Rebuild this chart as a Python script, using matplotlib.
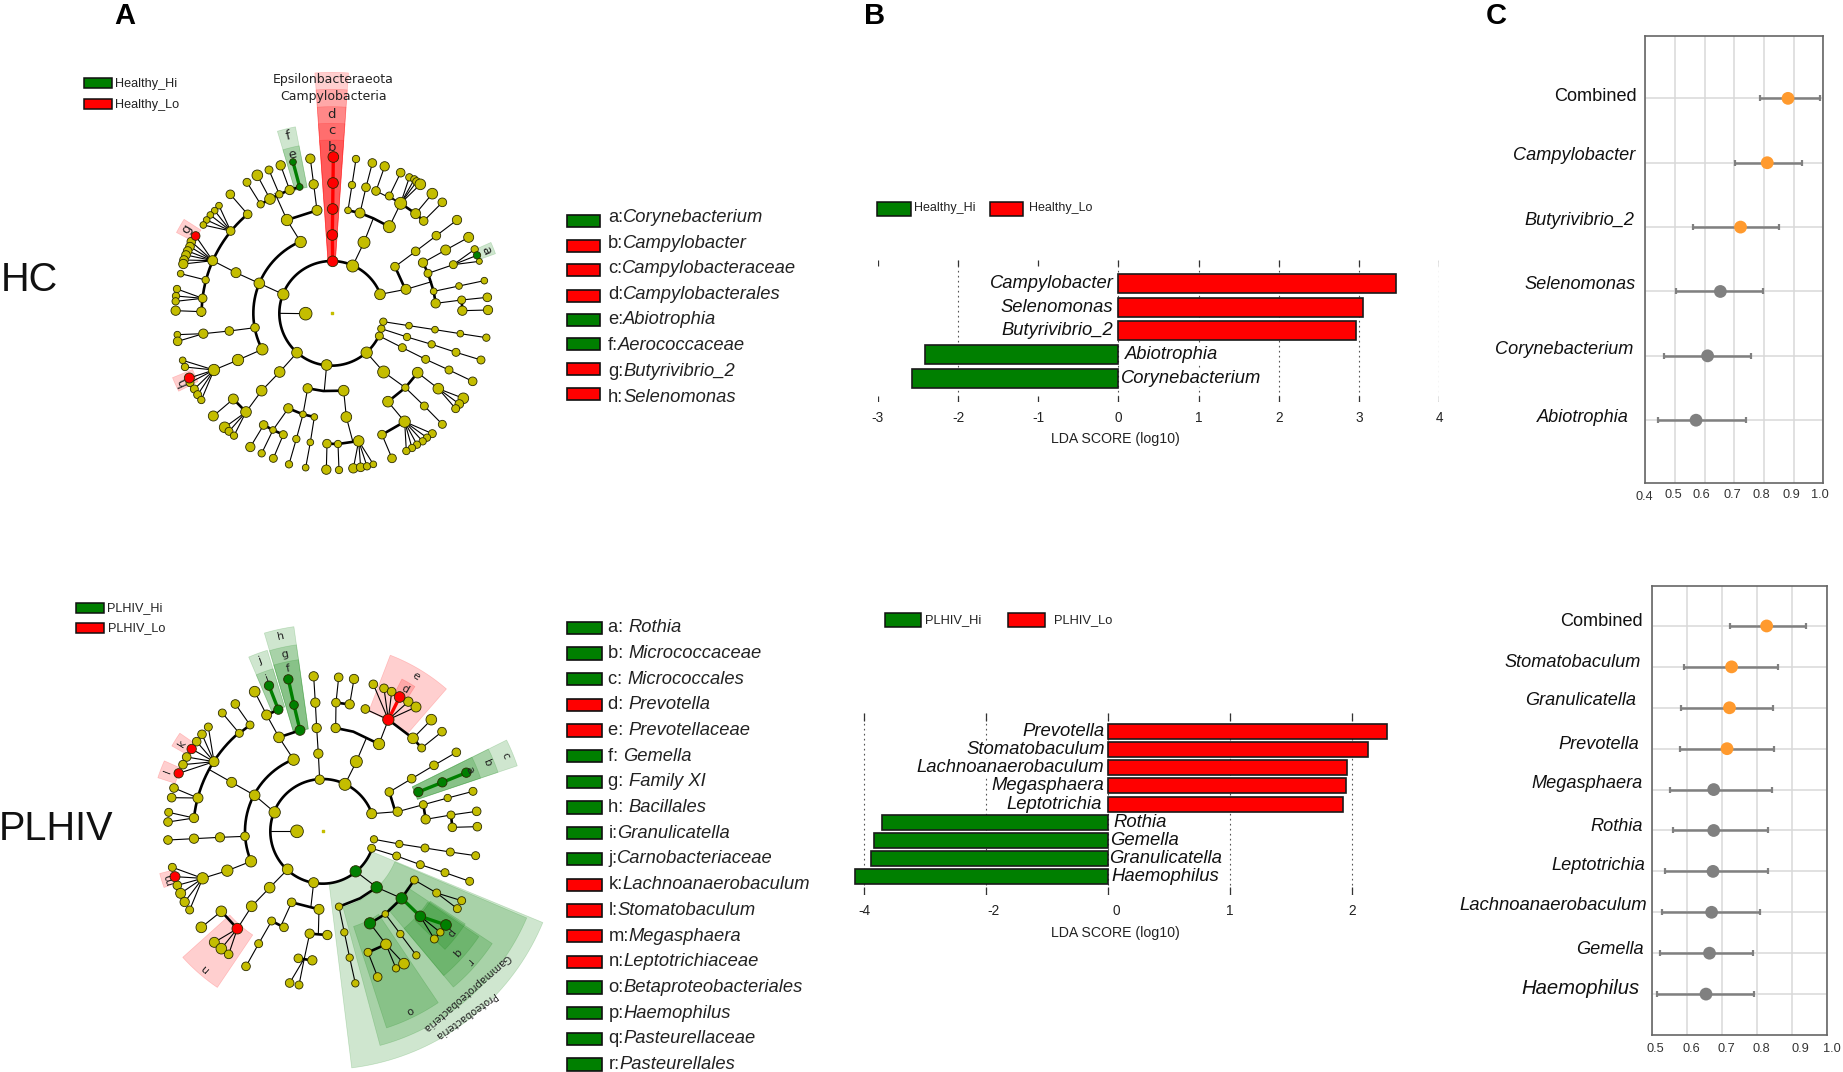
#!/usr/bin/env python3
import numpy as np
import matplotlib
matplotlib.use("Agg")
import matplotlib.pyplot as plt
from matplotlib.patches import Polygon, Rectangle

plt.rcParams["font.family"] = ["Liberation Sans", "DejaVu Sans"]

W, H = 1843, 1072
RED = "#ff0000"
GREEN = "#007f00"
OLIVE = "#c4bd00"

# cladogram nodes and branches at 3x (x, y, radius)
HC_CENTER = (815, 820)
HC_OLIVE = [
    (878, 678, 18), (960, 763, 16), (670, 763, 17), (737, 821, 19), (711, 938, 16), (800, 975, 16),
    (920, 938, 17), (958, 888, 12), (964, 866, 11), (970, 845, 11),
    (912, 607, 18), (988, 560, 18), (900, 519, 15), (918, 442, 13), (937, 369, 13), (864, 511, 10),
    (876, 435, 11), (888, 357, 11), (1022, 490, 18), (948, 453, 13), (974, 379, 14), (1067, 521, 15),
    (1117, 461, 16), (1091, 543, 13), (1147, 487, 13), (988, 468, 12), (1022, 398, 13), (1048, 412, 11),
    (1063, 418, 11), (1070, 425, 12), (1081, 433, 16),
    (1038, 748, 15), (1005, 680, 13), (1067, 634, 13), (1129, 587, 13), (1191, 540, 14), (1104, 700, 12),
    (1089, 668, 14), (1180, 674, 12), (1244, 628, 11), (1258, 664, 9), (1157, 630, 15), (1226, 592, 15),
    (1121, 754, 10), (1197, 738, 10), (1273, 722, 10), (1127, 790, 14), (1205, 780, 12), (1282, 772, 13),
    (1207, 812, 14), (1284, 810, 14),
    (1047, 857, 10), (1125, 869, 10), (1201, 881, 10), (1279, 893, 11), (1041, 891, 11), (1115, 913, 11),
    (1188, 937, 12), (1263, 960, 12), (1027, 923, 12), (1097, 958, 12), (1167, 990, 12), (1238, 1024, 13),
    (971, 996, 18), (1036, 1043, 11), (1093, 1098, 12), (1147, 1153, 12), (1073, 998, 16), (984, 1085, 16),
    (1135, 1046, 16), (1210, 1075, 16), (1198, 1092, 13), (1187, 1106, 12), (1034, 1145, 17), (966, 1184, 13),
    (996, 1255, 13), (1117, 1181, 12), (1101, 1193, 11), (1088, 1204, 11), (1071, 1214, 11), (1056, 1224, 11),
    (1039, 1233, 11),
    (743, 1045, 14), (851, 1052, 16), (859, 1131, 16), (896, 1203, 16), (801, 1211, 13), (834, 1212, 11),
    (880, 1285, 14), (902, 1282, 13), (921, 1279, 11), (940, 1273, 10), (799, 1289, 14), (837, 1290, 11),
    (729, 1123, 10), (685, 1105, 14), (763, 1131, 10), (751, 1207, 10), (737, 1283, 10), (709, 1197, 11),
    (687, 1273, 11), (611, 1155, 13), (639, 1170, 10), (670, 1184, 12), (571, 1221, 14), (605, 1240, 11),
    (640, 1255, 12),
    (659, 996, 16), (605, 1052, 16), (558, 1116, 16), (520, 1077, 15), (460, 1128, 15), (494, 1162, 16),
    (507, 1174, 12), (522, 1187, 11),
    (607, 928, 17), (534, 960, 17), (462, 990, 17), (368, 961, 10), (375, 981, 11), (390, 1028, 12),
    (403, 1047, 12), (413, 1064, 12), (424, 1080, 11),
    (585, 863, 13), (508, 873, 13), (430, 881, 14), (352, 884, 10), (353, 904, 13),
    (598, 730, 16), (528, 698, 15), (458, 662, 15), (437, 720, 11), (362, 701, 10), (428, 775, 13),
    (351, 747, 11), (348, 768, 11), (347, 784, 11), (347, 812, 14), (424, 815, 14),
    (394, 605, 13), (390, 620, 13), (383, 633, 13), (378, 645, 13), (372, 660, 13), (370, 672, 14),
    (512, 573, 13), (477, 497, 10), (464, 512, 10), (451, 525, 10), (440, 540, 10), (430, 555, 10),
    (563, 523, 13), (511, 463, 13),
    (722, 606, 17), (681, 540, 17), (771, 511, 15), (761, 433, 14), (751, 356, 14), (630, 477, 16),
    (658, 463, 11), (689, 450, 14), (602, 493, 11), (561, 427, 12), (592, 406, 16), (627, 390, 12),
    (662, 376, 14),
]
HC_RED = [(818, 664, 16), (817, 585, 16), (818, 507, 16), (819, 429, 16), (820, 351, 16),
          (407, 588, 13), (388, 1014, 15)]
HC_GREEN = [(699, 366, 10), (719, 441, 10), (1251, 646, 11)]
HC_THIN = [
    [(660, 820), (737, 821)], [(878, 678), (912, 607), (940, 535)], [(900, 519), (918, 442), (937, 369)],
    [(864, 511), (876, 435), (888, 357)], [(988, 560), (1022, 490), (948, 453), (974, 379)],
    [(1022, 490), (988, 468), (1022, 398)], [(1022, 490), (1048, 412)], [(1022, 490), (1063, 418)],
    [(1022, 490), (1070, 425)], [(1022, 490), (1081, 433)], [(1067, 521), (1117, 461)],
    [(1091, 543), (1147, 487)], [(960, 763), (1038, 748), (1115, 725)],
    [(1005, 680), (1067, 634), (1129, 587), (1191, 540)], [(1104, 700), (1180, 674), (1244, 628)],
    [(1180, 674), (1258, 664)], [(1180, 674), (1251, 646)], [(1089, 668), (1157, 630), (1226, 592)],
    [(1121, 754), (1197, 738), (1273, 722)], [(1127, 790), (1205, 780), (1282, 772)], [(1207, 812), (1284, 810)],
    [(970, 845), (1047, 857), (1125, 869), (1201, 881), (1279, 893)],
    [(964, 866), (1041, 891), (1115, 913), (1188, 937), (1263, 960)],
    [(958, 888), (1027, 923), (1097, 958), (1167, 990), (1238, 1024)],
    [(920, 938), (971, 996), (1036, 1043), (1093, 1098), (1147, 1153)], [(1073, 998), (1135, 1046), (1210, 1075)],
    [(1135, 1046), (1198, 1092)], [(1135, 1046), (1187, 1106)], [(984, 1085), (1034, 1145), (1117, 1181)],
    [(1034, 1145), (1101, 1193)], [(1034, 1145), (1088, 1204)], [(1034, 1145), (1071, 1214)],
    [(1034, 1145), (1056, 1224)], [(1034, 1145), (1039, 1233)], [(966, 1184), (996, 1255)],
    [(800, 975), (793, 1050)], [(851, 1052), (859, 1131), (878, 1203)], [(896, 1203), (880, 1285)],
    [(896, 1203), (902, 1282)], [(896, 1203), (921, 1279)], [(896, 1203), (940, 1273)], [(801, 1211), (799, 1289)],
    [(834, 1212), (837, 1290)], [(743, 1045), (729, 1123), (709, 1197), (687, 1273)],
    [(763, 1131), (751, 1207), (737, 1283)], [(685, 1105), (639, 1170), (605, 1240)], [(670, 1184), (640, 1255)],
    [(611, 1155), (571, 1221)], [(711, 938), (659, 996), (605, 1052), (558, 1116)], [(520, 1077), (460, 1128)],
    [(558, 1116), (494, 1162)], [(558, 1116), (507, 1174)], [(558, 1116), (522, 1187)],
    [(607, 928), (534, 960), (462, 990), (368, 961)], [(462, 990), (375, 981)], [(462, 990), (388, 1014)],
    [(462, 990), (390, 1028)], [(462, 990), (403, 1047)], [(462, 990), (413, 1064)], [(462, 990), (424, 1080)],
    [(585, 863), (508, 873), (430, 881), (352, 884)], [(430, 881), (353, 904)],
    [(670, 763), (598, 730), (528, 698), (458, 662)], [(437, 720), (362, 701)], [(428, 775), (351, 747)],
    [(428, 775), (348, 768)], [(428, 775), (347, 784)], [(424, 815), (347, 812)],
    [(458, 662), (407, 588)], [(458, 662), (394, 605)], [(458, 662), (390, 620)], [(458, 662), (383, 633)],
    [(458, 662), (378, 645)], [(458, 662), (372, 660)], [(458, 662), (370, 672)],
    [(512, 573), (477, 497)], [(512, 573), (464, 512)], [(512, 573), (451, 525)], [(512, 573), (440, 540)],
    [(512, 573), (430, 555)], [(563, 523), (511, 463)],
    [(722, 606), (681, 540), (645, 460)], [(771, 511), (761, 433), (751, 356)], [(602, 493), (561, 427)],
    [(630, 477), (592, 406)], [(658, 463), (627, 390)], [(689, 450), (662, 376)],
]
HC_THICK = [
    [(864, 511), (900, 519), (940, 535), (988, 560)], [(1022, 490), (1067, 521), (1091, 543)],
    [(1005, 680), (1030, 735)], [(1089, 668), (1104, 700), (1121, 754), (1127, 790)], [(1205, 780), (1207, 812)],
    [(984, 1085), (1036, 1043), (1073, 998)], [(966, 1184), (1034, 1145)], [(743, 1045), (790, 1053), (851, 1052)],
    [(801, 1211), (834, 1212), (896, 1203)], [(685, 1105), (729, 1123), (763, 1131)],
    [(611, 1155), (639, 1170), (670, 1184)], [(520, 1077), (558, 1116)], [(681, 540), (771, 511)],
    [(602, 493), (630, 477), (658, 463), (689, 450), (719, 441)],
]
HC_RED_THICK = [[(818, 664), (817, 585), (818, 507), (819, 429), (820, 351)]]
HC_GREEN_THICK = [[(699, 366), (719, 441)]]
HC_ARCS = [(157, 21, 335), (235, 113, 207), (390, 130, 181)]
# clade, inner radius, outer radius, start angle, end angle, colour
HC_WEDGES = [
    ("", 160, 723, 86, 94, RED), ("", 160, 672, 86, 94, RED), ("d", 160, 620, 86, 94, RED),
    ("c", 160, 570, 86, 94, RED), ("b", 160, 520, 86, 94, RED),
    ("f", 385, 570, 101, 106.6, GREEN), ("e", 385, 512, 101, 106.6, GREEN),
    ("a", 465, 523, 20, 24, GREEN), ("g", 465, 525, 147.5, 152.5, RED), ("h", 450, 515, 202, 207, RED),
]

PL_CENTER = (788, 724)
PL_OLIVE = [
    (779, 569, 14), (855, 583, 18), (935, 671, 15), (644, 667, 17), (711, 724, 19), (683, 838, 16), (761, 878, 15),
    (935, 775, 12), (942, 748, 11),
    (889, 515, 18), (827, 414, 14), (957, 462, 17), (828, 338, 13), (869, 343, 14), (836, 262, 13), (882, 267, 14),
    (916, 357, 13), (940, 283, 13), (972, 295, 13), (995, 305, 13), (1045, 335, 14), (1068, 351, 15),
    (1059, 445, 16), (1114, 389, 16), (1085, 474, 12), (1146, 425, 13),
    (1013, 665, 14), (988, 606, 13), (1055, 566, 13), (1122, 526, 13), (1189, 487, 13), (1090, 644, 12),
    (1163, 624, 11), (1239, 604, 12), (1097, 688, 14), (1173, 675, 12), (1250, 664, 13), (1177, 712, 13),
    (1252, 710, 13),
    (1018, 762, 11), (1095, 774, 12), (1171, 786, 12), (1247, 797, 12), (1010, 798, 12), (1081, 824, 12),
    (1155, 848, 12), (1229, 874, 12),
    (837, 950, 11), (1063, 870, 12), (976, 972, 10), (1130, 909, 12), (1205, 932, 12), (1192, 956, 12),
    (1123, 1047, 12), (1141, 1027, 11), (1021, 1032, 11), (1069, 1096, 11), (978, 1063, 16), (924, 1087, 12),
    (953, 1161, 13), (1032, 1121, 16), (1008, 1135, 11), (853, 1027, 11), (869, 1103, 11), (886, 1180, 11),
    (695, 937, 13), (777, 958, 15), (749, 1031, 14), (802, 1035, 14), (715, 1105, 13), (757, 1111, 14),
    (689, 1179, 13), (717, 1185, 12), (635, 993, 12), (672, 1012, 13), (596, 1061, 12), (558, 1129, 13),
    (629, 893, 16), (575, 949, 16), (484, 964, 16), (424, 1012, 16), (463, 1057, 15), (484, 1076, 16),
    (506, 1093, 13),
    (573, 814, 17), (502, 842, 17), (428, 865, 17), (337, 832, 12), (352, 886, 13), (362, 910, 15),
    (374, 936, 14), (389, 960, 12),
    (555, 739, 13), (480, 742, 14), (402, 746, 14), (324, 750, 13), (402, 684, 14), (326, 667, 12),
    (324, 696, 13), (414, 624, 15), (342, 594, 13), (335, 623, 13),
    (584, 616, 16), (515, 577, 15), (462, 515, 15), (445, 411, 12), (426, 433, 13), (410, 455, 13),
    (380, 501, 13), (369, 524, 13), (538, 430, 12), (487, 369, 12), (570, 405, 12), (526, 342, 13),
    (701, 509, 17), (657, 442, 16), (620, 375, 15), (584, 305, 16),
    (775, 491, 14), (770, 414, 14), (766, 338, 14), (761, 259, 14),
]
PL_RED = [(985, 389, 17), (1019, 321, 16), (532, 1016, 16), (345, 860, 15), (395, 477, 14), (356, 550, 14)]
PL_GREEN = [
    (720, 421, 15), (702, 345, 13), (685, 268, 14), (655, 359, 14), (627, 287, 14), (1075, 606, 14), (1147, 577, 14),
    (1219, 548, 14), (887, 844, 17), (950, 892, 17), (1025, 925, 17), (930, 1000, 17), (1081, 979, 16),
    (1158, 1005, 16),
]
PL_THIN = [
    [(633, 724), (711, 724)], [(855, 583), (889, 515), (918, 447)], [(827, 414), (828, 338), (836, 262)],
    [(869, 343), (882, 267)], [(957, 462), (985, 389)], [(985, 389), (916, 357)], [(985, 389), (940, 283)],
    [(985, 389), (972, 295)], [(985, 389), (995, 305)], [(985, 389), (1045, 335)], [(985, 389), (1068, 351)],
    [(1059, 445), (1114, 389)], [(1085, 474), (1146, 425)],
    [(935, 671), (1013, 665), (1090, 644), (1163, 624), (1239, 604)], [(988, 606), (1055, 566), (1122, 526), (1189, 487)],
    [(1097, 688), (1173, 675), (1250, 664)], [(1177, 712), (1252, 710)],
    [(942, 748), (1018, 762), (1095, 774), (1171, 786), (1247, 797)],
    [(935, 775), (1010, 798), (1081, 824), (1155, 848), (1229, 874)],
    [(887, 844), (950, 892), (1025, 925)], [(1063, 870), (1130, 909), (1205, 932)], [(1130, 909), (1192, 956)],
    [(1081, 979), (1123, 1047)], [(1081, 979), (1141, 1027)], [(1158, 1005), (1123, 1047)],
    [(976, 972), (1021, 1032), (1069, 1096)], [(930, 1000), (978, 1063), (1032, 1121)], [(978, 1063), (1008, 1135)],
    [(924, 1087), (953, 1161)], [(837, 950), (853, 1027), (869, 1103), (886, 1180)],
    [(761, 878), (753, 948)], [(777, 958), (775, 1033)], [(749, 1031), (733, 1105), (689, 1179)], [(733, 1105), (717, 1185)],
    [(695, 937), (664, 1005)], [(635, 993), (596, 1061), (558, 1129)],
    [(683, 838), (629, 893), (575, 949), (532, 1016)], [(484, 964), (424, 1012)], [(532, 1016), (463, 1057)],
    [(532, 1016), (484, 1076)], [(532, 1016), (506, 1093)],
    [(573, 814), (502, 842), (428, 865), (337, 832)], [(428, 865), (345, 860)], [(428, 865), (352, 886)],
    [(428, 865), (362, 910)], [(428, 865), (374, 936)], [(428, 865), (389, 960)],
    [(555, 739), (480, 742), (402, 746), (324, 750)], [(402, 684), (326, 667)], [(402, 684), (324, 696)],
    [(414, 624), (342, 594)], [(414, 624), (335, 623)],
    [(644, 667), (584, 616), (515, 577), (450, 540)], [(462, 515), (445, 411)], [(462, 515), (426, 433)],
    [(462, 515), (410, 455)], [(462, 515), (395, 477)], [(462, 515), (380, 501)], [(462, 515), (369, 524)],
    [(462, 515), (356, 550)], [(538, 430), (487, 369)], [(570, 405), (526, 342)],
    [(701, 509), (657, 442), (620, 375), (584, 305)], [(779, 569), (775, 491), (770, 414), (766, 338), (761, 259)],
]
PL_THICK = [
    [(827, 414), (880, 425), (957, 462)], [(828, 338), (869, 343)], [(985, 389), (1059, 445), (1085, 474)],
    [(988, 606), (1003, 655)], [(1090, 644), (1097, 688)], [(1173, 675), (1177, 712)],
    [(837, 950), (900, 925), (950, 892)], [(1063, 870), (1025, 925), (976, 972), (930, 1000)],
    [(924, 1087), (978, 1063)], [(695, 937), (777, 958)], [(749, 1031), (802, 1035)], [(715, 1105), (757, 1111)],
    [(635, 993), (672, 1012)], [(484, 964), (532, 1016)], [(538, 430), (570, 405)], [(657, 442), (720, 421)],
    [(620, 375), (655, 359)],
]
PL_RED_THICK = [[(985, 389), (1019, 321)]]
PL_GREEN_THICK = [
    [(720, 421), (702, 345), (685, 268)], [(655, 359), (627, 287)], [(1075, 606), (1147, 577), (1219, 548)],
    [(1025, 925), (1081, 979), (1158, 1005)],
]
PL_ARCS = [(157, 20, 341), (233, 112, 203), (388, 130, 174)]
PL_WEDGES = [
    ("", 157, 715, -83, -22.5, GREEN), ("", 235, 665, -75, -23, GREEN), ("o", 300, 620, -72, -56, GREEN),
    ("r", 305, 610, -50, -33.5, GREEN), ("q", 380, 565, -50, -34, GREEN), ("p", 385, 510, -44, -33, GREEN),
    ("n", 375, 565, 222, 236, RED), ("e", 385, 566, 49, 69, RED), ("d", 470, 515, 57.5, 62.5, RED),
    ("c", 300, 616, 18.6, 26.4, GREEN), ("b", 300, 555, 18.6, 26.4, GREEN), ("a", 300, 500, 18.6, 26.4, GREEN),
    ("h", 310, 620, 98, 106.4, GREEN), ("g", 310, 565, 98, 106.4, GREEN), ("f", 310, 520, 98, 106.4, GREEN),
    ("j", 390, 568, 107, 113, GREEN), ("i", 390, 510, 107, 113, GREEN),
    ("k", 460, 520, 145.5, 150.5, RED), ("l", 465, 520, 156, 162, RED), ("m", 465, 505, 194.5, 199.5, RED),
]

HC_LIST = ["a:", "b:", "c:", "d:", "e:", "f:", "g:", "h:"]
HC_TAXA = ["Corynebacterium", "Campylobacter", "Campylobacteraceae", "Campylobacterales",
           "Abiotrophia", "Aerococcaceae", "Butyrivibrio_2", "Selenomonas"]
HC_TAXA_COL = [GREEN, RED, RED, RED, GREEN, GREEN, RED, RED]
PL_LIST = ["a: ", "b: ", "c: ", "d: ", "e: ", "f: ", "g: ", "h: ", "i:", "j:", "k:", "l:", "m:", "n:", "o:", "p:", "q:", "r:"]
PL_TAXA = ["Rothia", "Micrococcaceae", "Micrococcales", "Prevotella", "Prevotellaceae", "Gemella", "Family XI",
           "Bacillales", "Granulicatella", "Carnobacteriaceae", "Lachnoanaerobaculum", "Stomatobaculum",
           "Megasphaera", "Leptotrichiaceae", "Betaproteobacteriales", "Haemophilus", "Pasteurellaceae", "Pasteurellales"]
PL_TAXA_COL = [GREEN, GREEN, GREEN, RED, RED, GREEN, GREEN, GREEN, GREEN, GREEN, RED, RED, RED, RED,
               GREEN, GREEN, GREEN, GREEN]

# LDA bars
HC_LDA_NAMES = ["Campylobacter", "Selenomonas", "Butyrivibrio_2", "Abiotrophia", "Corynebacterium"]
HC_LDA = [3.46, 3.05, 2.97, -2.41, -2.58]
HC_LDA_TICKS = [-3, -2, -1, 0, 1, 2, 3, 4]
PL_LDA_NAMES = ["Prevotella", "Stomatobaculum", "Lachnoanaerobaculum", "Megasphaera", "Leptotrichia",
                "Rothia", "Gemella", "Granulicatella", "Haemophilus"]
PL_LDA = [2.29, 2.13, 1.96, 1.95, 1.93, -3.71, -3.84, -3.88, -4.15]
PL_LDA_TICKS = [-4, -2, 0, 1, 2]

# forest panels
HC_AUC_NAMES = ["Combined", "Campylobacter", "Butyrivibrio_2", "Selenomonas", "Corynebacterium", "Abiotrophia"]
HC_AUC = [0.881, 0.811, 0.721, 0.653, 0.610, 0.571]
HC_AUC_LO = [0.787, 0.702, 0.561, 0.502, 0.463, 0.443]
HC_AUC_HI = [0.988, 0.928, 0.850, 0.796, 0.757, 0.738]
HC_AUC_TICKS = [0.4, 0.5, 0.6, 0.7, 0.8, 0.9, 1.0]
PL_AUC_NAMES = ["Combined", "Stomatobaculum", "Granulicatella", "Prevotella", "Megasphaera", "Rothia",
                "Leptotrichia", "Lachnoanaerobaculum", "Gemella", "Haemophilus"]
PL_AUC = [0.827, 0.727, 0.721, 0.714, 0.676, 0.676, 0.674, 0.670, 0.664, 0.654]
PL_AUC_LO = [0.723, 0.592, 0.583, 0.580, 0.550, 0.560, 0.538, 0.528, 0.522, 0.513]
PL_AUC_HI = [0.938, 0.860, 0.845, 0.847, 0.841, 0.830, 0.830, 0.808, 0.788, 0.791]
PL_AUC_TICKS = [0.5, 0.6, 0.7, 0.8, 0.9, 1.0]


def px_axes(fig, x0, y0, x1, y1):
    return fig.add_axes([x0 / W, 1 - y1 / H, (x1 - x0) / W, (y1 - y0) / H])


def sector(cx, cy, r0, r1, a0, a1):
    t = np.radians(np.linspace(a0, a1, 40))
    outer = np.c_[cx + r1 * np.cos(t), cy - r1 * np.sin(t)]
    inner = np.c_[cx + r0 * np.cos(t[::-1]), cy - r0 * np.sin(t[::-1])]
    return np.vstack([outer, inner])


def scatter_nodes(ax, nodes, color):
    xy = np.array(nodes, dtype=float)
    # radius is in 3x pixels, scatter wants points squared
    s = (2 * xy[:, 2] / 3 * 0.72) ** 2
    ax.scatter(xy[:, 0], xy[:, 1], s=s, c=color, edgecolors="#2a2a00", linewidths=0.6, zorder=5)


def draw_lines(ax, chains, color, lw, z):
    for chain in chains:
        xy = np.array(chain, dtype=float)
        ax.plot(xy[:, 0], xy[:, 1], color=color, lw=lw, zorder=z, solid_capstyle="round")


def draw_clado(ax, center, wedges, arcs, thin, thick, red_thick, green_thick, olive, red, green, fs):
    cx, cy = center
    for name, r0, r1, a0, a1, col in wedges:
        ax.add_patch(Polygon(sector(cx, cy, r0, r1, a0, a1), closed=True, fc=col, ec=col, alpha=0.19, lw=0.5, zorder=1))
        if name:
            am = np.radians((a0 + a1) / 2)
            rl = r1 - min(22, (r1 - r0) / 2)
            ax.text(cx + rl * np.cos(am), cy - rl * np.sin(am), name, rotation=(a0 + a1) / 2 - 90, fontsize=fs,
                    family="DejaVu Sans", color="#222222", ha="center", va="center", zorder=7, rotation_mode="anchor")
    for r, a0, a1 in arcs:
        t = np.radians(np.linspace(a0, a1, 200))
        ax.plot(cx + r * np.cos(t), cy - r * np.sin(t), color="black", lw=1.9, zorder=3)
    draw_lines(ax, thin, "black", 0.8, 2)
    draw_lines(ax, thick, "black", 1.9, 3)
    draw_lines(ax, red_thick, RED, 2.4, 4)
    draw_lines(ax, green_thick, GREEN, 2.4, 4)
    scatter_nodes(ax, olive, OLIVE)
    scatter_nodes(ax, red, RED)
    scatter_nodes(ax, green, GREEN)
    ax.scatter([cx], [cy], marker="s", s=1.5, c=OLIVE, zorder=5)


def legend_box(ax, x0, y0, x1, y1, col, label, tx, ty, size=8.8):
    ax.add_patch(Rectangle((x0, y0), x1 - x0, y1 - y0, fc=col, ec="#101010", lw=1.1))
    ax.text(tx, ty, label, fontsize=size, va="center", ha="left", color="#222222")


def taxa_list(ax, prefixes, taxa, cols, box_x, box_ys, box_h, text_x, text_ys, size):
    for pre, taxon, col, by, ty in zip(prefixes, taxa, cols, box_ys, text_ys):
        ax.add_patch(Rectangle((box_x[0], by - box_h / 2), box_x[1] - box_x[0], box_h, fc=col, ec="#101010", lw=1.2))
        t = ax.text(text_x, ty, pre, fontsize=size, va="center", ha="left", color="#222222")
        ax.annotate(taxon, xy=(1, 0.5), xycoords=t, xytext=(0, 0), textcoords="offset pixels", fontsize=size,
                    style="italic", va="center", ha="left", color="#222222")


def lda_panel(ax, names, values, ticks, xlim, nrows, gridless, text_gap, tick_shift, size, bar_h):
    y = np.arange(len(values))
    cols = [RED if v > 0 else GREEN for v in values]
    for t in ticks:
        if t not in gridless:
            ax.axvline(t, color="#555555", lw=0.8, ls=(0, (1.5, 3)), zorder=1)
        ax.vlines(t, 0, 0.045, transform=ax.get_xaxis_transform(), color="#333333", lw=0.9, zorder=2)
        ax.vlines(t, 0.955, 1, transform=ax.get_xaxis_transform(), color="#333333", lw=0.9, zorder=2)
    ax.barh(y, values, height=bar_h, color=cols, edgecolor="#1a1a1a", linewidth=1.2, zorder=3)
    ax.set_xlim(*xlim)
    ax.set_ylim(nrows[1], nrows[0])
    ax.axis("off")
    for i, (name, v) in enumerate(zip(names, values)):
        ax.annotate(name, xy=(0, i), xytext=(text_gap[i], 0), textcoords="offset pixels", fontsize=size,
                    style="italic", va="center", ha="right" if v > 0 else "left", color="#111111", zorder=4,
                    bbox=dict(fc="white", ec="none", pad=0.2))
    for t, dx in zip(ticks, tick_shift):
        ax.annotate(str(t), xy=(t, 0), xycoords=ax.get_xaxis_transform(), xytext=(dx, -16),
                    textcoords="offset pixels", fontsize=9.8, ha="center", va="center", color="#222222")


def forest_panel(ax, names, auc, lo, hi, ticks, xlim, ylim, n_orange, gaps, lifts, tick_shift, sizes):
    y = np.arange(len(auc))
    cols = ["#ff9a2e"] * n_orange + ["#808080"] * (len(auc) - n_orange)
    ax.set_xlim(*xlim)
    ax.set_ylim(*ylim)
    ax.set_xticks(ticks)
    ax.set_yticks(y)
    ax.set_xticklabels([])
    ax.set_yticklabels([])
    ax.tick_params(length=0)
    ax.grid(True, color="#d9d9d9", lw=1.1)
    ax.set_axisbelow(True)
    for s in ax.spines.values():
        s.set_color("#666666")
        s.set_linewidth(1.2)
    err = [np.array(auc) - np.array(lo), np.array(hi) - np.array(auc)]
    ax.errorbar(auc, y, xerr=err, fmt="none", ecolor="#808080", elinewidth=1.8, capsize=2.2, capthick=1.6, zorder=3)
    ax.scatter(auc, y, s=85, c=cols, zorder=4, linewidths=0)
    for i, name in enumerate(names):
        ax.annotate(name, xy=(0, i), xycoords=ax.get_yaxis_transform(), xytext=(-gaps[i], lifts[i]),
                    textcoords="offset pixels", fontsize=sizes[i], style="normal" if name == "Combined" else "italic",
                    ha="right", va="center", color="#111111", annotation_clip=False)
    for t, (dx, dy) in zip(ticks, tick_shift):
        ax.annotate(f"{t:.1f}", xy=(t, 0), xycoords=ax.get_xaxis_transform(), xytext=(dx, dy),
                    textcoords="offset pixels", fontsize=9.2, ha="center", va="center", color="#333333",
                    annotation_clip=False)


def main():
    fig = plt.figure(figsize=(W / 100, H / 100), dpi=100, facecolor="white")

    # page axes, in picture pixels, for the free text and keys
    pg = fig.add_axes([0, 0, 1, 1])
    pg.set_xlim(0, W)
    pg.set_ylim(H, 0)
    pg.axis("off")
    for letter, x in zip("ABC", [125, 875, 1496]):
        pg.text(x, 16.5, letter, fontsize=21, weight="bold", ha="center", va="center")
    pg.text(29, 280, "HC", fontsize=28.5, ha="center", va="center", color="#111111")
    pg.text(56, 829, "PLHIV", fontsize=28.5, ha="center", va="center", color="#111111")

    legend_box(pg, 84, 78, 112, 88, GREEN, "Healthy_Hi", 115.5, 83.8, 9.1)
    legend_box(pg, 84, 98.5, 112, 109, RED, "Healthy_Lo", 115.5, 105, 9.1)
    legend_box(pg, 76, 602.5, 103.5, 612.5, GREEN, "PLHIV_Hi", 107.5, 608.5, 9.1)
    legend_box(pg, 76, 622.5, 103.5, 632.5, RED, "PLHIV_Lo", 108, 628.5, 9.1)
    legend_box(pg, 877, 202, 911, 216, GREEN, "Healthy_Hi", 914, 207.5, 9)
    legend_box(pg, 990, 202, 1023, 216, RED, "Healthy_Lo", 1029, 208, 9)
    legend_box(pg, 885, 612.5, 921, 626.5, GREEN, "PLHIV_Hi", 925, 620, 9.3)
    legend_box(pg, 1008, 612.5, 1045, 626.5, RED, "PLHIV_Lo", 1054, 620, 9.3)

    hc_box_y = 190 + np.array([93, 167, 240, 317, 389, 463, 537, 611]) / 3
    hc_txt_y = 191.5 + np.array([78, 155, 232, 310, 385, 463, 540, 617]) / 3
    taxa_list(pg, HC_LIST, HC_TAXA, HC_TAXA_COL, (566.7, 600), hc_box_y, 12, 608, hc_txt_y, 13.2)
    pl_box_y = 600 + (83 + 77.1 * np.arange(18)) / 3
    pl_txt_y = 601 + (80 + 77.1 * np.arange(18)) / 3
    taxa_list(pg, PL_LIST, PL_TAXA, PL_TAXA_COL, (567.3, 602.3), pl_box_y, 12.3, 608.3, pl_txt_y, 13.2)
    pg.text(1115, 439, "LDA SCORE (log10)", fontsize=10.2, ha="center", va="center", color="#222222")
    pg.text(1115, 933, "LDA SCORE (log10)", fontsize=10.2, ha="center", va="center", color="#222222")

    # panel A, data are the 3x crop coordinates
    ax = px_axes(fig, 60, 40, 520, 500)
    ax.set_xlim(0, 1380)
    ax.set_ylim(1380, 0)
    ax.axis("off")
    draw_clado(ax, HC_CENTER, HC_WEDGES, HC_ARCS, HC_THIN, HC_THICK, HC_RED_THICK, HC_GREEN_THICK,
               HC_OLIVE, HC_RED, HC_GREEN, 9.5)
    ax.text(820, 118, "Epsilonbacteraeota", fontsize=9, family="DejaVu Sans", ha="center", va="center",
            color="#222222", zorder=7)
    ax.text(820, 170, "Campylobacteria", fontsize=9, family="DejaVu Sans", ha="center", va="center",
            color="#222222", zorder=7)

    ax = px_axes(fig, 60, 590, 560, 1072)
    ax.set_xlim(0, 1500)
    ax.set_ylim(1446, 0)
    ax.axis("off")
    draw_clado(ax, PL_CENTER, PL_WEDGES, PL_ARCS, PL_THIN, PL_THICK, PL_RED_THICK, PL_GREEN_THICK,
               PL_OLIVE, PL_RED, PL_GREEN, 8)
    ax.text(1220, 1207, "Gammaproteobacteria", fontsize=7.2, family="DejaVu Sans", rotation=221, ha="center",
            va="center", rotation_mode="anchor", color="#222222", zorder=7)
    ax.text(1215, 1277, "Proteobacteria", fontsize=7.2, family="DejaVu Sans", rotation=215.6, ha="center",
            va="center", rotation_mode="anchor", color="#222222", zorder=7)

    # panel B
    ax = px_axes(fig, 878, 260, 1439, 402)
    lda_panel(ax, HC_LDA_NAMES, HC_LDA, HC_LDA_TICKS, (-3, 4), (-0.986, 5), [-3, -1],
              [-5, -5, -5, 6, 2.5], [0, 0, 0, 0, 0, 0, 0, 0], 13.2, 0.81)

    # the negative side of this axis is labelled at half scale in the source
    ax = px_axes(fig, 851.8, 713.3, 1394.7, 895)
    ax.set_xscale("function", functions=(lambda v: np.where(v < 0, v / 2, v), lambda v: np.where(v < 0, v * 2, v)))
    lda_panel(ax, PL_LDA_NAMES, PL_LDA, PL_LDA_TICKS, (-4.2, 2.35), (-0.99, 9), [],
              [-3.5, -3, -3.5, -4, -6, 5, 2, 1, 3.5], [0, 7, 8, 0, 0], 13.3, 0.83)

    # panel C
    ax = px_axes(fig, 1645.3, 36.3, 1823.3, 483.3)
    forest_panel(ax, HC_AUC_NAMES, HC_AUC, HC_AUC_LO, HC_AUC_HI, HC_AUC_TICKS, (0.4056, 1.0), (5.98, -0.964), 3,
                 [8.7, 10.3, 11, 9.3, 12.3, 16.3], [1.7, 7.7, 7, 6.7, 6, 2.7],
                 [(-0.5, -14), (-2, -12), (-3, -12), (-2, -12), (-3, -12), (-2, -12), (-3, -12)], [13.1] * 6)

    ax = px_axes(fig, 1652, 586, 1827.3, 1035)
    forest_panel(ax, PL_AUC_NAMES, PL_AUC, PL_AUC_LO, PL_AUC_HI, PL_AUC_TICKS, (0.503, 0.998), (10.0, -0.977), 4,
                 [9.3, 11.3, 16.3, 12.7, 9, 9.3, 7, 4.7, 8.7, 12.7], [4.3, 4.3, 7.3, 4, 5.7, 4.3, 6, 6.3, 4, 5.7],
                 [(3, -14), (4, -14), (4, -14), (4, -14), (8, -14), (5, -14)],
                 [13.1, 13.1, 13.1, 13.1, 13.1, 13.1, 13.1, 13.3, 13.1, 14.6])

    fig.savefig("out.png", dpi=100, facecolor="white")
    plt.close(fig)


if __name__ == "__main__":
    main()
